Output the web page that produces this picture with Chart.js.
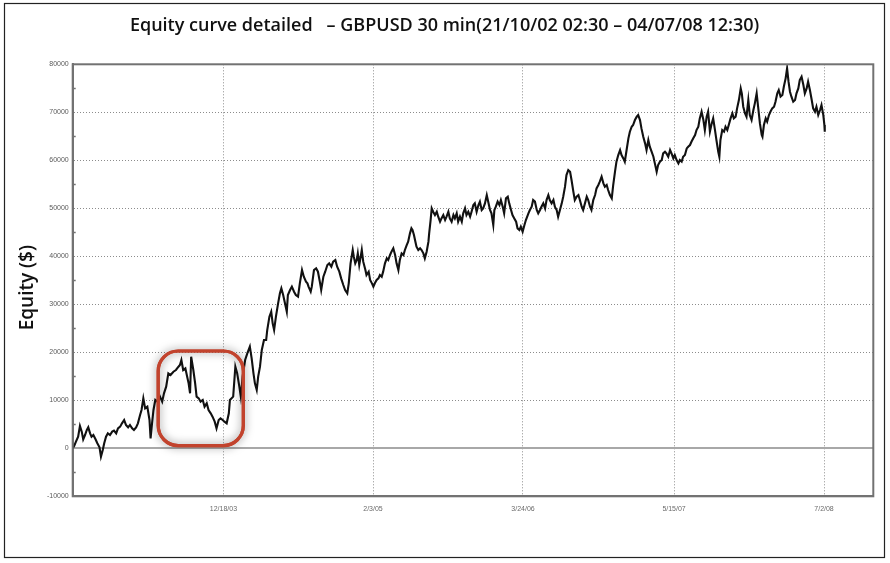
<!DOCTYPE html>
<html><head><meta charset="utf-8">
<script src="https://cdn.jsdelivr.net/npm/chart.js@4.4.1/dist/chart.umd.min.js"></script>
<style>html,body{margin:0;padding:0;background:#fff}#wrap{position:relative;width:890px;height:563px}</style>
</head><body><div id="wrap"><canvas id="c" width="890" height="563"></canvas></div>
<script>
// Days since 21/10/02 (x) and equity in $ (y)
const days = [7,11,16,22,27,32,36,41,46,50,55,59,64,70,75,81,85,90,94,99,104,110,116,121,127,132,138,143,149,154,160,165,171,176,182,187,193,197,202,207,213,219,222,226,230,235,241,248,254,259,265,271,277,285,292,299,303,307,312,318,323,327,331,334,340,345,349,355,360,366,371,377,382,388,393,399,404,410,415,421,426,432,438,441,
450,456,461,467,471,476,483,489,496,501,506,510,515,519,524,529,535,541,544,550,555,559,563,568,574,579,583,588,594,598,601,607,612,618,623,629,634,640,645,651,655,658,664,667,673,679,684,690,693,699,704,710,715,721,726,732,737,743,748,754,759,765,769,774,780,783,787,791,794,798,802,805,809,815,818,824,828,833,
837,841,846,851,855,860,864,869,874,878,883,887,892,897,901,906,910,915,920,924,929,933,938,942,945,949,953,956,961,966,970,975,979,984,989,991,995,998,1002,1007,1012,1016,1021,1025,1030,1035,1039,1044,1048,1053,1058,1062,1067,1071,1076,1081,1085,1090,1094,1099,1104,1108,1113,1117,1122,1127,1131,1136,1140,1145,1150,1154,1159,1163,1168,1171,1175,1180,1185,1189,1194,1198,1203,1208,1212,1217,1221,1226,1231,1235,1240,1244,1249,1254,1258,
1265,1269,1274,1278,1283,1288,1292,1297,1301,1306,1311,1315,1320,1324,1329,1334,1338,1343,1347,1352,1357,1361,1366,1370,1375,1380,1384,1389,1393,1398,1403,1407,1412,1416,1421,1426,1430,1435,1439,1444,1449,1453,1458,1462,1467,1472,1476,1481,1485,1490,1495,1499,1504,1508,1513,1518,1522,1527,1531,1536,1541,1545,1550,1554,1559,1564,1568,1573,1577,1582,1587,1591,1596,1600,1605,1610,1614,1619,1623,1628,1633,1637,1642,1646,1651,
1656,1660,1665,1669,1674,1679,1683,1688,1692,1697,1702,1706,1711,1715,1720,1725,1729,1734,1738,1743,1748,1752,1757,1761,1766,1771,1775,1780,1784,1789,1792,1795,1800,1805,1809,1814,1818,1823,1828,1832,1837,1841,1846,1851,1854,1858,1863,1867,1872,1876,1881,1886,1890,1895,1899,1904,1909,1911,1915,1920,1924,1929,1933,1938,1943,1947,1952,1956,1961,1966,1970,1975,1979,1983,1987,1991,1996,2001,2005,2010,2014,2019,2024,2028,2033,2037,2042,2047,2051,2056,2060,2065,2070,2074,2079,2082,2083];
const equity = [0,480,1380,2420,4650,3470,1870,2770,3810,4370,3120,2420,2770,1870,1040,200,-1740,-350,1040,2420,3120,2770,3470,3680,3120,4160,4510,5200,5900,4860,4370,4860,4160,3810,4370,5200,6940,7980,10410,8330,8670,5900,2080,5200,7980,10060,9710,10760,9710,11450,12840,15620,15270,15960,16310,17000,17350,18390,16310,16660,14920,13530,11450,19090,16310,13530,10760,10410,9710,10060,8670,9370,7980,7290,6590,5550,4160,5900,6240,5900,5550,5200,7290,10060,
10760,17000,15620,12840,10760,14920,18390,19780,21170,18740,15620,13530,12150,14920,17010,20480,22560,22560,24640,27420,28460,26030,24640,27420,30200,32280,33320,31930,29850,28460,31930,32980,33670,32630,31930,31590,34360,37140,35750,34710,34360,33670,32630,33670,37140,37490,36790,34360,32980,35750,36790,38180,38530,37840,38880,39220,37840,36790,35410,34020,32980,32280,34360,38530,41310,39920,38530,39220,40610,38180,39920,41310,38880,37140,36100,36790,35060,34360,
33670,34370,35060,35410,36100,35750,36800,38530,39570,39230,40270,40960,41660,40270,38530,37140,39230,40610,40270,41310,42350,43040,44780,45820,45470,44430,43040,42000,41310,41660,41310,40610,39570,40960,43040,44780,47560,49990,49290,48600,49290,48250,47210,47900,48600,47560,48250,49290,47900,47210,48600,47900,48950,47210,48250,47210,48950,49990,48600,49290,48250,49290,50680,51030,49290,50680,51380,49640,49990,51030,52760,51380,49640,48950,46520,49640,50330,51380,50680,51720,50330,48950,52070,52420,51030,49640,48600,47900,47210,45820,45470,46170,45130,46520,47560,
48950,49640,50330,51720,51380,49640,48950,49640,50330,51030,49990,51720,52760,51720,51030,51720,50330,49640,48250,49640,51030,52420,54500,56930,57970,57620,55890,53460,51720,52420,52760,51720,50330,49640,51030,52420,51720,50330,49640,51720,52760,54150,54850,55540,56580,55190,54500,54850,53810,52760,52070,54850,57620,59710,61100,62140,61100,60400,59710,62140,64570,65960,67000,67340,68390,69080,69430,68390,66650,64910,63530,62140,64220,62830,61790,60750,59360,57620,59010,59710,60050,61440,61790,61440,60750,
62140,61440,60400,61100,60050,59360,60050,59710,60750,61100,62480,62830,63180,63870,64570,65260,66300,67000,68730,70120,68390,66300,69080,70120,65960,67690,68730,66300,64220,61790,60750,64220,66300,65960,67000,66300,67340,68730,69770,68730,69080,70820,72550,74980,73940,71160,69770,69080,72550,69430,68390,70470,71860,73940,71160,67690,65260,64910,67340,68730,68040,69430,70120,70820,71160,72200,73940,74630,73250,73590,75330,77070,79150,76370,74290,73250,72200,72550,73940,74980,76720,77410,75680,73940,74980,76370,74630,72550,70820,70120,71160,69430,70470,71510,69430,67340,65960];
const tickDays = [423, 836, 1250, 1667, 2081];
const tickLabels = ['12/18/03', '2/3/05', '3/24/06', '5/15/07', '7/2/08'];
// highlighted period (days from/to, equity low/high)
const highlightDays = [243, 478];
const highlightEquity = [560, 20270];

const chartTitle = 'Equity curve detailed   \u2013 GBPUSD 30 min(21/10/02 02:30 \u2013 04/07/08 12:30)';
const yTitle = 'Equity ($)   ';

const decor = {
  id: 'decor',
  afterDatasetsDraw(chart) {
    const {ctx, scales: {x, y}} = chart;
    const x1 = x.getPixelForValue(highlightDays[0]), x2 = x.getPixelForValue(highlightDays[1]);
    const y1 = y.getPixelForValue(highlightEquity[1]), y2 = y.getPixelForValue(highlightEquity[0]);
    ctx.save();
    ctx.beginPath();
    ctx.roundRect(x1, y1, x2 - x1, y2 - y1, 20);
    ctx.shadowColor = 'rgba(0,0,0,0.5)';
    ctx.shadowBlur = 9;
    ctx.lineWidth = 3.2;
    ctx.strokeStyle = '#c2432d';
    ctx.stroke();
    ctx.shadowBlur = 0; ctx.shadowColor = 'transparent';
    ctx.stroke();
    ctx.restore();
  },
  afterDraw(chart) {
    const {ctx, chartArea: a, scales: {y}} = chart;
    ctx.save();
    ctx.strokeStyle = '#727272';
    ctx.lineWidth = 2;
    ctx.strokeRect(a.left, a.top, a.right - a.left, a.bottom - a.top);
    ctx.lineWidth = 1.5;
    for (let v = -5000; v < 80000; v += 10000) {
      const py = Math.round(y.getPixelForValue(v)) + 0.5;
      ctx.beginPath(); ctx.moveTo(a.left, py); ctx.lineTo(a.left + 3, py); ctx.stroke();
    }
    ctx.restore();
    ctx.save();
    ctx.strokeStyle = '#222';
    ctx.lineWidth = 1.2;
    ctx.strokeRect(4.5, 3.5, 880, 554);
    ctx.restore();
  }
};

new Chart(document.getElementById('c'), {
  type: 'line',
  data: {
    datasets: [{
      data: days.map((d, i) => ({x: d, y: equity[i]})),
      borderColor: '#111',
      borderWidth: 2.1,
      pointRadius: 0,
      tension: 0,
      fill: false
    }]
  },
  options: {
    responsive: false,
    animation: false,
    devicePixelRatio: 1,
    layout: {padding: {left: 15.8, top: 0, right: 16.7, bottom: 0}},
    plugins: {
      legend: {display: false},
      tooltip: {enabled: false},
      title: {
        display: true,
        text: chartTitle,
        color: '#111',
        font: {family: 'Open Sans', size: 18, weight: '600'},
        padding: {top: 15.5, bottom: 27.2}
      }
    },
    scales: {
      x: {
        type: 'linear',
        min: 7, max: 2217,
        afterBuildTicks: s => { s.ticks = tickDays.map(v => ({value: v})); },
        afterFit: s => { s.height = 66.7; },
        ticks: {
          autoSkip: false, maxRotation: 0, padding: 9,
          color: '#6a6a6a',
          font: {family: 'Liberation Sans', size: 7},
          callback: (v, i) => tickLabels[i]
        },
        grid: {color: '#8c8c8c', lineWidth: 1, drawTicks: false},
        border: {display: true, color: '#727272', width: 2, dash: [1, 2]}
      },
      y: {
        min: -10000, max: 80000,
        afterFit: s => { s.width = 56.9; },
        ticks: {
          stepSize: 5000, padding: 4,
          color: '#5a5a5a',
          font: {family: 'Liberation Sans', size: 7},
          callback: v => (v % 10000 === 0 ? String(v) : '')
        },
        grid: {
          drawTicks: false,
          color: c => (c.tick && c.tick.value % 10000 === 0 ? (c.tick.value === 0 ? '#a8a8a8' : '#8c8c8c') : 'transparent'),
          lineWidth: c => (c.tick && c.tick.value === 0 ? 2 : 1)
        },
        border: {
          display: true, color: '#727272', width: 2,
          dash: c => (c.tick && c.tick.value === 0 ? [] : [1, 2])
        },
        title: {
          display: true,
          text: yTitle,
          color: '#111',
          font: {family: 'Open Sans', size: 19, weight: '600'},
          padding: {top: 0, bottom: 0}
        }
      }
    }
  },
  plugins: [decor]
});
</script></body></html>
